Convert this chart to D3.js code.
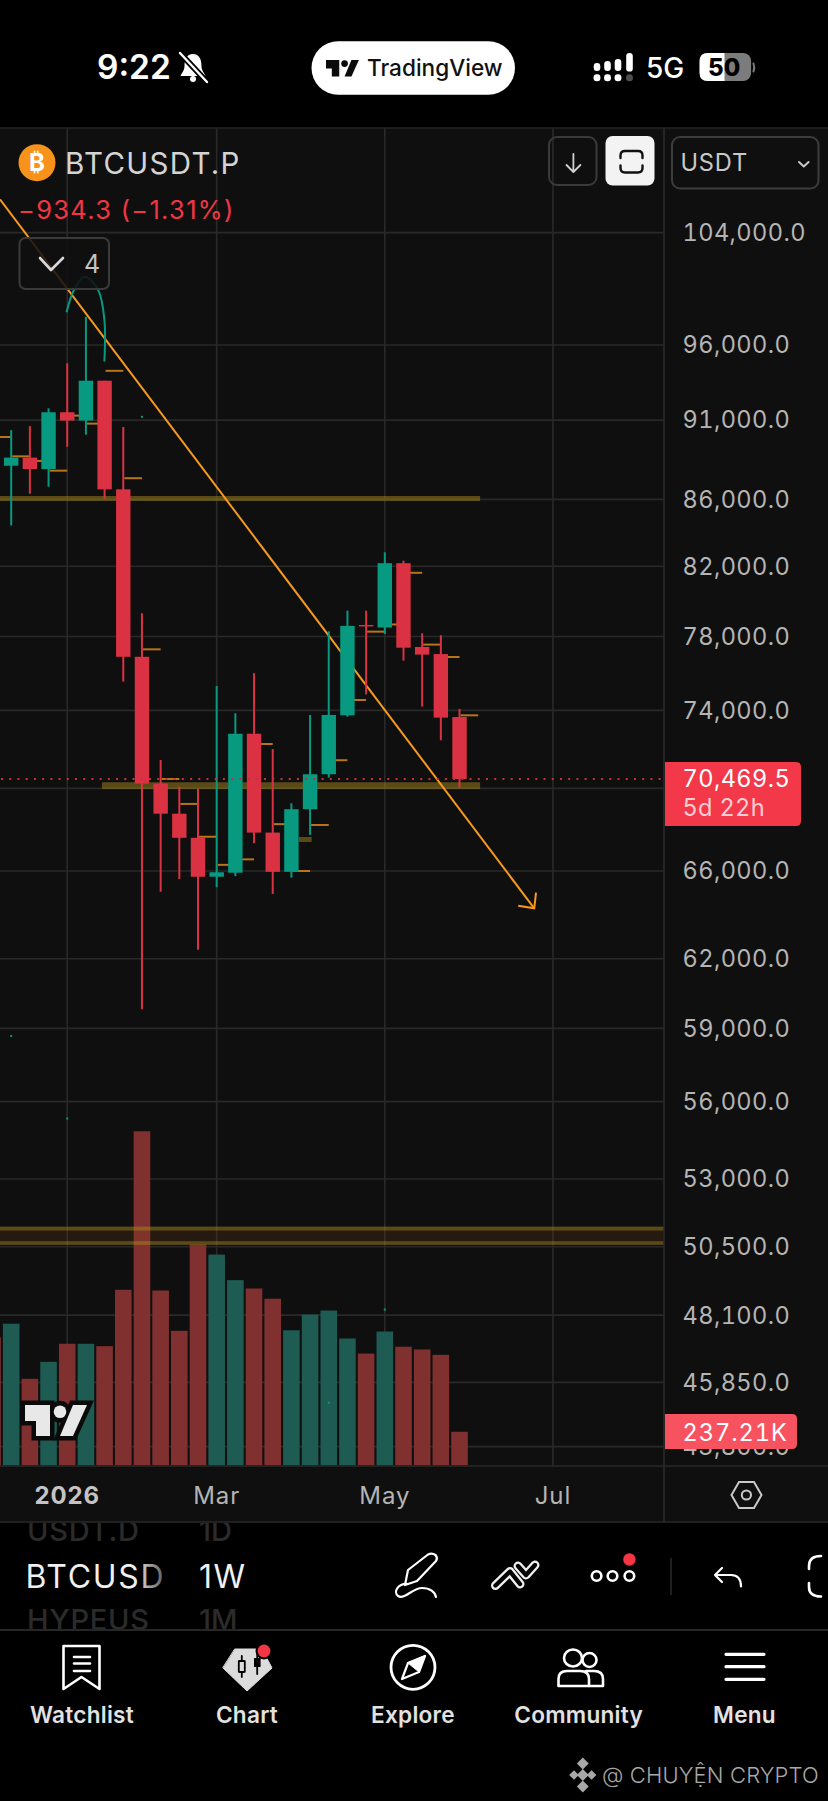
<!DOCTYPE html>
<html><head><meta charset="utf-8">
<script src="https://cdnjs.cloudflare.com/ajax/libs/d3/7.8.5/d3.min.js"></script>
<style>html,body{margin:0;padding:0;background:#000}svg{display:block}text{font-family:Inter,"Noto Sans",sans-serif}.tn{font-variant-numeric:tabular-nums}</style>
</head><body><svg id="c" width="828" height="1801" viewBox="0 0 828 1801"></svg>
<script>
// ---------- data ----------
const weeks=["2025-12-08","2025-12-15","2025-12-22","2025-12-29","2026-01-05","2026-01-12","2026-01-19","2026-01-26","2026-02-02","2026-02-09","2026-02-16","2026-02-23","2026-03-02","2026-03-09","2026-03-16","2026-03-23","2026-03-30","2026-04-06","2026-04-13","2026-04-20","2026-04-27","2026-05-04","2026-05-11","2026-05-18","2026-05-25","2026-06-01"];
const opens =[92100,88090,88600,87880,91510,90970,93590,86620,76880,70240,68750,67580,65730,65920,72780,67830,65960,68970,70710,73740,78640,78500,82180,77420,77030,73650];
const closes=[88100,88600,87880,91510,90970,93590,86620,76880,70240,68750,67580,65730,65940,72780,67830,65960,68970,70710,73760,78590,78560,82180,77380,77000,73620,70469.5];
const highs =[94500,90350,90610,91770,94760,97950,93590,90560,79300,71430,70090,69970,75300,73850,75990,71990,69260,73760,78290,79450,79450,82820,82330,78180,78070,74080];
const lows  =[87800,84420,86350,86780,89290,90060,86050,75530,59810,65030,65620,62400,65240,65760,67320,64930,65690,67720,70540,73670,74850,78140,76670,74200,72440,70040];
const volumes=[903,998,610,730,857,857,840,1237,2353,1232,948,1556,1485,1305,1246,1174,952,1063,1091,894,788,943,836,817,779,237.21];
const stepLevels=[89910,88680,88390,87780,91290,90770,94250,87310,77290,70470,69230,67630,66290,66550,72250,68240,66000,68200,71420,74550,78270,78670,81620,77550,76870,73740];
const gridPrices=[104000,96000,91000,86000,82000,78000,74000,70000,66000,62000,59000,56000,53000,50500,48100,45850,43800];
const labelledPrices=[104000,96000,91000,86000,82000,78000,74000,66000,62000,59000,56000,53000,50500,48100,45850,43800];
const timeTickDates=["2026-01-05","2026-03-02","2026-05-04","2026-07-06"];
const timeTickLabels=["2026","Mar","May","Jul"];
const lastPrice=70469.5, lastVolumeLabel="237.21K", lastPriceLabel="70,469.5", countdownLabel="5d 22h";
const trendDates=["2025-12-10T19:00Z","2026-06-29T00:00Z"], trendPrices=[106490,64270];
const arrowDates=["2026-06-23T00:00Z","2026-06-29T00:00Z","2026-06-29T16:00Z"], arrowPrices=[64390,64270,64990];
const arcDates=["2026-01-04T18:00Z","2026-01-07T12:00Z","2026-01-11T12:00Z","2026-01-16T14:00Z","2026-01-18T22:00Z","2026-01-18T22:00Z"];
const arcPrices=[98260,99835,100785,99835,97725,94875];
const zoneLows =[85904,69970,67377,51085,50569];
const zoneHighs=[86210,70306,67619,51231,50702];
const zoneFrom=["2025-12-01","2026-01-18","2026-04-01T19:00Z","2025-12-01","2025-12-01"];
const zoneTo  =["2026-06-08T17:00Z","2026-06-08T17:00Z","2026-04-06T14:00Z","2026-09-15","2026-09-15"];
const speckDates=["2026-02-02","2026-01-05","2026-04-13","2026-05-04","2025-12-15"];
const speckPrices=[91210,55330,45190,48290,58680];
const fmtPrice=d3.format(",.1f");

// ---------- scales ----------
const svg=d3.select("#c");
const PANEL="#0f0f0f",GRID="#292929",RED="#da3242",TEAL="#089981",RV="#80312f",TV="#1d5b53",ZONE="rgba(165,135,30,.5)";
const plotL=0,plotR=664,plotT=128,plotB=1465.5;
const d=s=>new Date(s.length===10?s+"T00:00:00Z":s);
const x=d3.scaleUtc().domain([d(weeks[0]),d(weeks[weeks.length-1])]).range([-7.48,459.52]);
const y=d3.scaleLog().domain([96000,66000]).range([345,871]);
const v=d3.scaleLinear().domain([0,2400]).range([plotB,plotB-2400/7.04]);
const isUp=i=>closes[i]>=opens[i];
const idx=d3.range(weeks.length);

// ---------- backgrounds ----------
svg.append("rect").attr("width",828).attr("height",1801).attr("fill","#000");
svg.append("rect").attr("y",plotT).attr("width",828).attr("height",1522-plotT).attr("fill",PANEL);
svg.append("defs").append("clipPath").attr("id","plot").append("rect").attr("x",plotL).attr("y",plotT).attr("width",plotR-plotL).attr("height",plotB-plotT);
const plot=svg.append("g").attr("clip-path","url(#plot)");

// grid
plot.append("g").selectAll("line").data(gridPrices).join("line").attr("x1",plotL).attr("x2",plotR)
 .attr("y1",p=>y(p)).attr("y2",p=>y(p)).attr("stroke",GRID).attr("stroke-width",1.6);
plot.append("g").selectAll("line").data(timeTickDates).join("line").attr("y1",plotT).attr("y2",plotB)
 .attr("x1",t=>x(d(t))).attr("x2",t=>x(d(t))).attr("stroke",GRID).attr("stroke-width",1.6);

// volume
plot.append("g").selectAll("rect").data(idx).join("rect")
 .attr("x",i=>x(d(weeks[i]))-8.3).attr("width",16.6).attr("y",i=>v(volumes[i])).attr("height",i=>v(0)-v(volumes[i]))
 .attr("fill",i=>isUp(i)?TV:RV);

// zones
plot.append("rect").attr("x",plotL).attr("width",plotR).attr("y",y(zoneLows[3])).attr("height",y(zoneHighs[4])-y(zoneLows[3])).attr("fill","rgba(125,65,20,.2)");
plot.append("g").selectAll("rect").data(zoneLows).join("rect")
 .attr("x",(p,i)=>x(d(zoneFrom[i]))).attr("width",(p,i)=>x(d(zoneTo[i]))-x(d(zoneFrom[i])))
 .attr("y",(p,i)=>y(zoneHighs[i])).attr("height",(p,i)=>y(p)-y(zoneHighs[i])).attr("fill",ZONE);

// trend line with arrow and hand drawn arc
const ln=d3.line().x(a=>x(d(a[0]))).y(a=>y(a[1]));
plot.append("path").attr("d",ln(d3.zip(trendDates,trendPrices))).attr("fill","none").attr("stroke","#f7991c").attr("stroke-width",2);
plot.append("path").attr("d",ln(d3.zip(arrowDates,arrowPrices))).attr("fill","none").attr("stroke","#f7991c").attr("stroke-width",2);
plot.append("path").attr("d",d3.line().x(a=>x(d(a[0]))).y(a=>y(a[1])).curve(d3.curveCatmullRom)(d3.zip(arcDates,arcPrices)))
 .attr("fill","none").attr("stroke",TEAL).attr("stroke-width",2);

// stepped indicator
plot.append("g").selectAll("line").data(idx).join("line")
 .attr("x1",i=>x(d(weeks[i]))+1).attr("x2",i=>x(d3.utcDay.offset(d(weeks[i]),7)))
 .attr("y1",i=>y(stepLevels[i])).attr("y2",i=>y(stepLevels[i])).attr("stroke","#b8741a").attr("stroke-width",2);

// specks
plot.append("g").selectAll("rect").data(speckPrices).join("rect")
 .attr("x",(p,i)=>x(d(speckDates[i]))-1).attr("y",p=>y(p)-1).attr("width",2).attr("height",2).attr("fill",TEAL);

// candles
const cg=plot.append("g").selectAll("g").data(idx).join("g");
cg.append("line").attr("x1",i=>x(d(weeks[i]))).attr("x2",i=>x(d(weeks[i])))
 .attr("y1",i=>y(highs[i])).attr("y2",i=>y(lows[i])).attr("stroke",i=>isUp(i)?TEAL:RED).attr("stroke-width",2);
cg.append("rect").attr("x",i=>x(d(weeks[i]))-7.2).attr("width",14.4)
 .attr("y",i=>y(Math.max(opens[i],closes[i]))).attr("height",i=>Math.abs(y(opens[i])-y(closes[i])))
 .attr("fill",i=>isUp(i)?TEAL:RED);

// last price line
plot.append("line").attr("x1",plotL+1).attr("x2",plotR).attr("y1",y(lastPrice)).attr("y2",y(lastPrice))
 .attr("stroke","#c62f3d").attr("stroke-width",2).attr("stroke-dasharray","2 6.22");

// frame lines
const rule=(a,b,c,e,col="#2a2a2a",w=1.6)=>svg.append("line").attr("x1",a).attr("y1",b).attr("x2",c).attr("y2",e).attr("stroke",col).attr("stroke-width",w);
rule(0,128,828,128,"#242424");rule(plotR,128,plotR,1522);rule(0,1466,828,1466);rule(0,1522,828,1522);

// ---------- axes ----------
const AX="#b4b4b4", LS=0.4;
svg.append("g").selectAll("text").data(labelledPrices).join("text").attr("class","tn").attr("x",682.5).attr("y",p=>y(p)+8.4)
 .attr("font-size",23.6).attr("letter-spacing",LS).attr("fill",AX).text(p=>fmtPrice(p));
svg.append("g").selectAll("text").data(timeTickDates).join("text").attr("x",t=>x(d(t))).attr("y",1504)
 .attr("text-anchor","middle").attr("font-size",24).attr("letter-spacing",.9).attr("font-weight",(t,i)=>i===0?700:400).attr("fill",(t,i)=>i===0?"#c4c4c4":"#b4b4b4").text((t,i)=>timeTickLabels[i]);

// last price tag
const tag=(x0,y0,w,h,col)=>svg.append("path").attr("d",`M${x0} ${y0}H${x0+w-5}Q${x0+w} ${y0} ${x0+w} ${y0+5}V${y0+h-5}Q${x0+w} ${y0+h} ${x0+w-5} ${y0+h}H${x0}Z`).attr("fill",col);
tag(665,762,136,64,"#f33849");
svg.append("text").attr("class","tn").attr("x",682.5).attr("y",786.7).attr("font-size",23.6).attr("letter-spacing",LS).attr("fill","#fff").text(lastPriceLabel);
svg.append("text").attr("class","tn").attr("x",682.5).attr("y",816).attr("font-size",23.6).attr("letter-spacing",.3).attr("fill","#fccdd2").text(countdownLabel);
tag(665,1414,132,35,"#f7525f");
svg.append("text").attr("class","tn").attr("x",682.5).attr("y",1440.6).attr("font-size",23.6).attr("letter-spacing",.95).attr("fill","#fff").text(lastVolumeLabel);

// settings hexagon
svg.append("path").attr("d","M731.5 1495L739 1482H754L761.5 1495L754 1508H739Z").attr("fill","none").attr("stroke","#c8c8c8").attr("stroke-width",2);
svg.append("circle").attr("cx",746.4).attr("cy",1495).attr("r",4.6).attr("fill","none").attr("stroke","#c8c8c8").attr("stroke-width",2);

// TV logo
function logo(tx,ty,s,fill,outline){
 const g=svg.append("g").attr("transform",`translate(${tx},${ty}) scale(${s})`);
 const pts=[["path","M0 0H25V31H11V16H0Z"],["path","M48 0H62L48 31H35Z"]];
 if(outline){
  pts.forEach(p=>g.append("path").attr("d",p[1]).attr("fill",outline).attr("stroke",outline).attr("stroke-width",9));
  g.append("circle").attr("cx",35).attr("cy",6.7).attr("r",6.5).attr("fill",outline).attr("stroke",outline).attr("stroke-width",9);
 }
 pts.forEach(p=>g.append("path").attr("d",p[1]).attr("fill",fill));
 g.append("circle").attr("cx",35).attr("cy",6.7).attr("r",6.3).attr("fill",fill);
}
logo(25,1405,1,"#e8e8e8","#0a0a0a");

// ---------- header overlay ----------
const WH="#fff";
const box=(a,b,w,h,r,fill,stroke,sw=2)=>svg.append("rect").attr("x",a).attr("y",b).attr("width",w).attr("height",h).attr("rx",r).attr("fill",fill).attr("stroke",stroke).attr("stroke-width",sw);
const P=(s,stroke,w=2,fill="none")=>svg.append("path").attr("d",s).attr("fill",fill).attr("stroke",stroke).attr("stroke-width",w).attr("stroke-linecap","round").attr("stroke-linejoin","round");
const T=(s,a,b,size,col,weight=400,anchor="start",ls=0)=>svg.append("text").attr("x",a).attr("y",b).attr("font-size",size).attr("fill",col).attr("font-weight",weight).attr("text-anchor",anchor).attr("letter-spacing",ls).text(s);

svg.append("circle").attr("cx",37).attr("cy",162.7).attr("r",18.5).attr("fill","#f7931a");
T("₿",37,171,24,"#fff",700,"middle").attr("font-family","DejaVu Sans");
T("BTCUSDT.P",65,174,29.5,"#d4d4d4",400,"start",1.3);
T("−934.3 (−1.31%)",18,219.3,25.4,"#f23645",400,"start",1.35);
box(19.5,238,89.5,51,6,"rgba(15,15,15,.86)","#3a3a3a");
P("M40 258L51 270L63 258","#d8d8d8",2.6);
T("4",84,272.7,25,"#c4c4c4");
box(549,137,47.5,48,8,"none","#3a3a3a");
P("M573.4 154V171.5M566.5 165L573.4 172L580.4 165","#d0d0d0",1.8);
box(605.5,136,49,49.5,7,"#f3f3f3","none",0);
P("M620.5 158V155.5Q620.5 151 625 151H638Q642.5 151 642.5 155.5V158M620.5 165.5V168Q620.5 172.5 625 172.5H638Q642.5 172.5 642.5 168V165.5","#111",2.4);
box(672,137,146.5,51.5,8,"none","#3c3c3c");
T("USDT",680.5,170.7,23.6,"#c8c8c8",400,"start",.8);
P("M799 162L803.8 166.5L808.6 162","#c8c8c8",2);

// ---------- status bar ----------
T("9:22",97,79.2,33.5,WH,600);
P("M193 54C186.5 54 184.5 60 184.5 66C184.5 71 181.5 73 180.5 76H205.5C204.5 73 201.5 71 201.5 66C201.5 60 199.5 54 193 54Z",WH,0,WH);
svg.append("circle").attr("cx",193).attr("cy",79).attr("r",3).attr("fill",WH);
P("M180 53L207 82","#000",6);P("M180 53L207 82",WH,2.4);
box(311.5,41.3,203.5,53.4,26.7,"#fff","none",0);
logo(326,60,.53,"#0b0b0b");
T("TradingView",367,76,22.6,"#111",500);
[[597,63,71],[607.5,61,71],[618,59,71],[629.5,53,71.6]].forEach(c=>{box(c[0]-3.3,c[1],6.6,c[2]-c[1],3.2,WH,"none",0);});
[597,607.5,618].forEach(c=>box(c-3.4,74.3,6.8,7,3,WH,"none",0));
box(626.1,74.3,6.8,7,3,"#4e4e4e","none",0);
T("5G",646,78,28,WH,500);
box(699.6,53,51.5,28,8,"#7c7c7c","none",0);
svg.append("path").attr("d","M724.5 53H707.6Q699.6 53 699.6 61V73Q699.6 81 707.6 81H724.5Z").attr("fill",WH);
P("M753.5 63.5Q755 67.5 753.5 71.5","#7c7c7c",2);
T("50",708,76,24,"#000",800);

// ---------- tool strip ----------
const DIM="#2b2b2b";
const strip=svg.append("defs").append("linearGradient").attr("id","fade").attr("x1",0).attr("x2",1);
strip.append("stop").attr("offset","0.78").attr("stop-color","#f0f0f0");
strip.append("stop").attr("offset","1").attr("stop-color","#555");
svg.append("clipPath").attr("id","strip").append("rect").attr("y",1523).attr("width",828).attr("height",106);
const s=svg.append("g").attr("clip-path","url(#strip)");
const ST=(t,a,b,size,col,w=500,ls=0)=>s.append("text").attr("x",a).attr("y",b).attr("font-size",size).attr("fill",col).attr("font-weight",w).attr("letter-spacing",ls).text(t);
ST("USDT.D",27,1541,29,DIM,500,.8);ST("1D",199,1541,29,DIM);
ST("HYPEUS",27,1629.5,29,DIM,500,.8);ST("1M",199,1629.5,29,DIM);
ST("BTCUSD",25.5,1588.3,32,"url(#fade)",400,1.7);ST("1W",199,1588.3,32,"#f0f0f0",400,1.4);
rule(0,1630,828,1630,"#333",1.6);
P("M405 1585L408 1570L428 1554.5Q432 1552.5 435.5 1555Q438 1558 436 1561L417 1581Z",WH,2.2);
P("M408 1584C398 1583 393 1592 398 1596C405 1600 412 1588 422 1588C430 1588 435 1592 436 1597",WH,2.2);
P("M495.5 1585.5L510 1571.5L520 1584","#f0f0f0",9);P("M495.5 1585.5L510 1571.5L520 1584","#000",4.4);
P("M518 1566L526 1575L535 1565","#f0f0f0",9);P("M518 1566L526 1575L535 1565","#000",4.4);
[596.6,612.5,629.4].forEach(c=>svg.append("circle").attr("cx",c).attr("cy",1576).attr("r",4.8).attr("fill","none").attr("stroke",WH).attr("stroke-width",2.6));
svg.append("circle").attr("cx",629.4).attr("cy",1559.5).attr("r",6.2).attr("fill","#f23645");
rule(671,1558,671,1595,"#2a2a2a",1.5);
P("M722 1568L715 1575L722 1582M715 1575H731Q741 1575 741 1586.5",WH,2.2);
P("M821 1556Q809 1556 809 1566V1569M809 1583V1587Q809 1596.5 821 1596.5",WH,2.6);

// ---------- navigation ----------
const navNames=["Watchlist","Chart","Explore","Community","Menu"], navCenters=[82,247,413,578.7,744.5];
navNames.forEach((n,i)=>T(n,navCenters[i],1722.7,22.6,"#e2e2e2",600,"middle",.25));
P("M63.5 1646H99.5V1689L81.5 1677L63.5 1689Z",WH,2.6);
P("M74 1657H90M74 1663.5H90M74 1671H90",WH,2.6);
P("M235 1649H262L272 1668L247 1691L223 1668Z","#dcdcdc",1,"#dcdcdc");
P("M241.8 1656V1677","#000",1.8);box(238.8,1661,6,11,.5,"#dcdcdc","#000",1.8);
P("M257.2 1655V1674","#000",1.8);box(254,1658,6.6,9,.5,"#000","none",0);
svg.append("circle").attr("cx",264).attr("cy",1651).attr("r",8.5).attr("fill","#000");
svg.append("circle").attr("cx",264).attr("cy",1651).attr("r",6.4).attr("fill","#f23645");
svg.append("circle").attr("cx",413).attr("cy",1667.3).attr("r",22).attr("fill","none").attr("stroke",WH).attr("stroke-width",2.8);
P("M425 1656L419 1672L402 1679L408 1663Z",WH,2.2);P("M425 1656L419 1672L408 1663Z",WH,1,WH);
svg.append("ellipse").attr("cx",573).attr("cy",1658).attr("rx",9).attr("ry",8.5).attr("fill","none").attr("stroke",WH).attr("stroke-width",2.6);
svg.append("ellipse").attr("cx",589.5).attr("cy",1660).attr("rx",7).attr("ry",7).attr("fill","none").attr("stroke",WH).attr("stroke-width",2.6);
P("M558.5 1686V1679Q558.5 1671 567 1671H580Q589 1671 589 1679V1686Z",WH,2.6);
P("M586 1671H594Q603 1671 603 1679V1686H589",WH,2.6);
P("M726 1654.3H764M726 1666.7H764M726 1679.3H764",WH,3.2);

// watermark
[[582.8,1763.5,4.2],[574,1775,3.4],[591.6,1775,3.4],[582.8,1775,4.2],[582.8,1786.5,4.2]].forEach(k=>{
 svg.append("rect").attr("x",k[0]-k[2]).attr("y",k[1]-k[2]).attr("width",2*k[2]).attr("height",2*k[2]).attr("fill","#a8a8a8").attr("transform",`rotate(45 ${k[0]} ${k[1]})`);});
T("@ CHUYỆN CRYPTO",602,1783,22,"#a8a8a8",300,"start",.15);
</script></body></html>
